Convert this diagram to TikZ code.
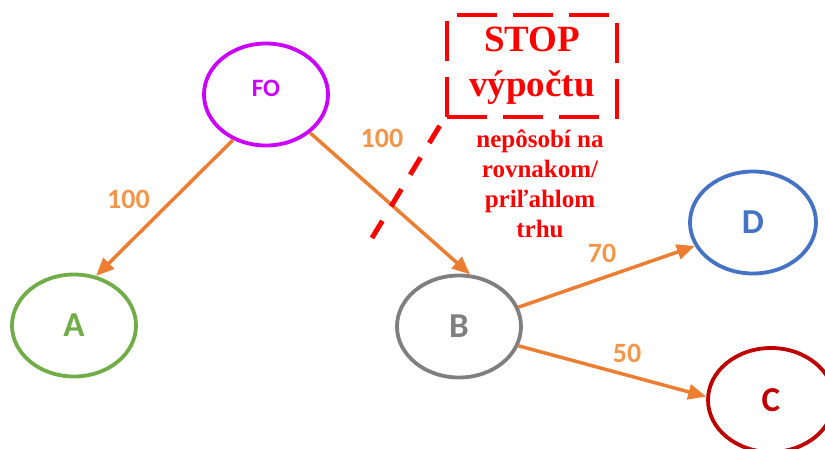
\documentclass[tikz,border=0pt]{standalone}
\usepackage{fontspec}
\setmainfont{Liberation Serif}
\newfontfamily\carlito{Carlito}
\usetikzlibrary{shapes.geometric,arrows.meta}
\definecolor{arrorange}{HTML}{ED7D31}
\definecolor{lblorange}{HTML}{F3964A}
\definecolor{fopurple}{HTML}{CC00FF}
\definecolor{agreen}{HTML}{70AD47}
\definecolor{bgray}{HTML}{7F7F7F}
\definecolor{dblue}{HTML}{4472C4}
\definecolor{cred}{HTML}{C00000}
\definecolor{stopred}{HTML}{FF0000}
\tikzset{
  ell/.style={ellipse, draw, line width=3.8pt, inner sep=0pt, minimum width=124pt, minimum height=102pt},
  letter/.style={font=\carlito\bfseries\fontsize{35}{40}\selectfont},
  flow/.style={draw=arrorange, line width=3.5pt, -{Triangle[length=18pt,width=15pt]}},
  num/.style={font=\carlito\bfseries\fontsize{28}{32}\selectfont, text=lblorange, inner sep=0pt},
  stopbox/.style={draw=stopred, line width=4.5pt, dash pattern=on 40pt off 16pt, dash phase=0pt, minimum width=170pt, minimum height=102pt, inner sep=0pt, align=center, text=stopred, font=\bfseries\fontsize{37}{45}\selectfont},
  note/.style={align=center, text=stopred, inner sep=0pt, font=\bfseries\fontsize{25}{30}\selectfont},
  cut/.style={draw=stopred, line width=5pt, dash pattern=on 20pt off 17pt}
}
\begin{document}
\begin{tikzpicture}[x=1pt,y=-1pt]
\useasboundingbox (0,0) rectangle (825,448);
\node[ell, draw=fopurple, label={[font=\carlito\bfseries\fontsize{25}{30}\selectfont, text=fopurple, yshift=6pt]center:FO}] (FO) at (266,94.5) {};
\node[ell, draw=agreen, text=agreen, letter] (A) at (74,325.5) {A};
\node[ell, draw=bgray, text=bgray, letter] (B) at (459,326.5) {B};
\node[ell, draw=dblue, text=dblue, letter, minimum width=126pt] (D) at (753,222.5) {D};
\node[ell, draw=cred, text=cred, letter, minimum width=126pt, minimum height=104pt] (C) at (771,400) {C};

\draw[flow] (FO.234.9) -- (A.66.3);
\draw[flow] (FO.319.6) -- (B.78.2);
\draw[flow] (B.18.3) -- (D.202.7);
\draw[flow] (B.342.6) -- (C.177.3);

\node[num] (n1) at (128.5,199) {100};
\node[num] (n2) at (382,138) {100};
\node[num] (n3) at (602,253) {70};
\node[num] (n4) at (627,353) {50};

\coordinate (cutlow) at (372,238);
\coordinate (cuthigh) at (442,122);
\draw[cut] (cutlow) -- (cuthigh);

\node[stopbox] (stop) at (532,66) {STOP\\výpočtu};
\node[note] (why) at (540,184) {nepôsobí na\\rovnakom/\\priľahlom\\trhu};
\end{tikzpicture}
\end{document}
